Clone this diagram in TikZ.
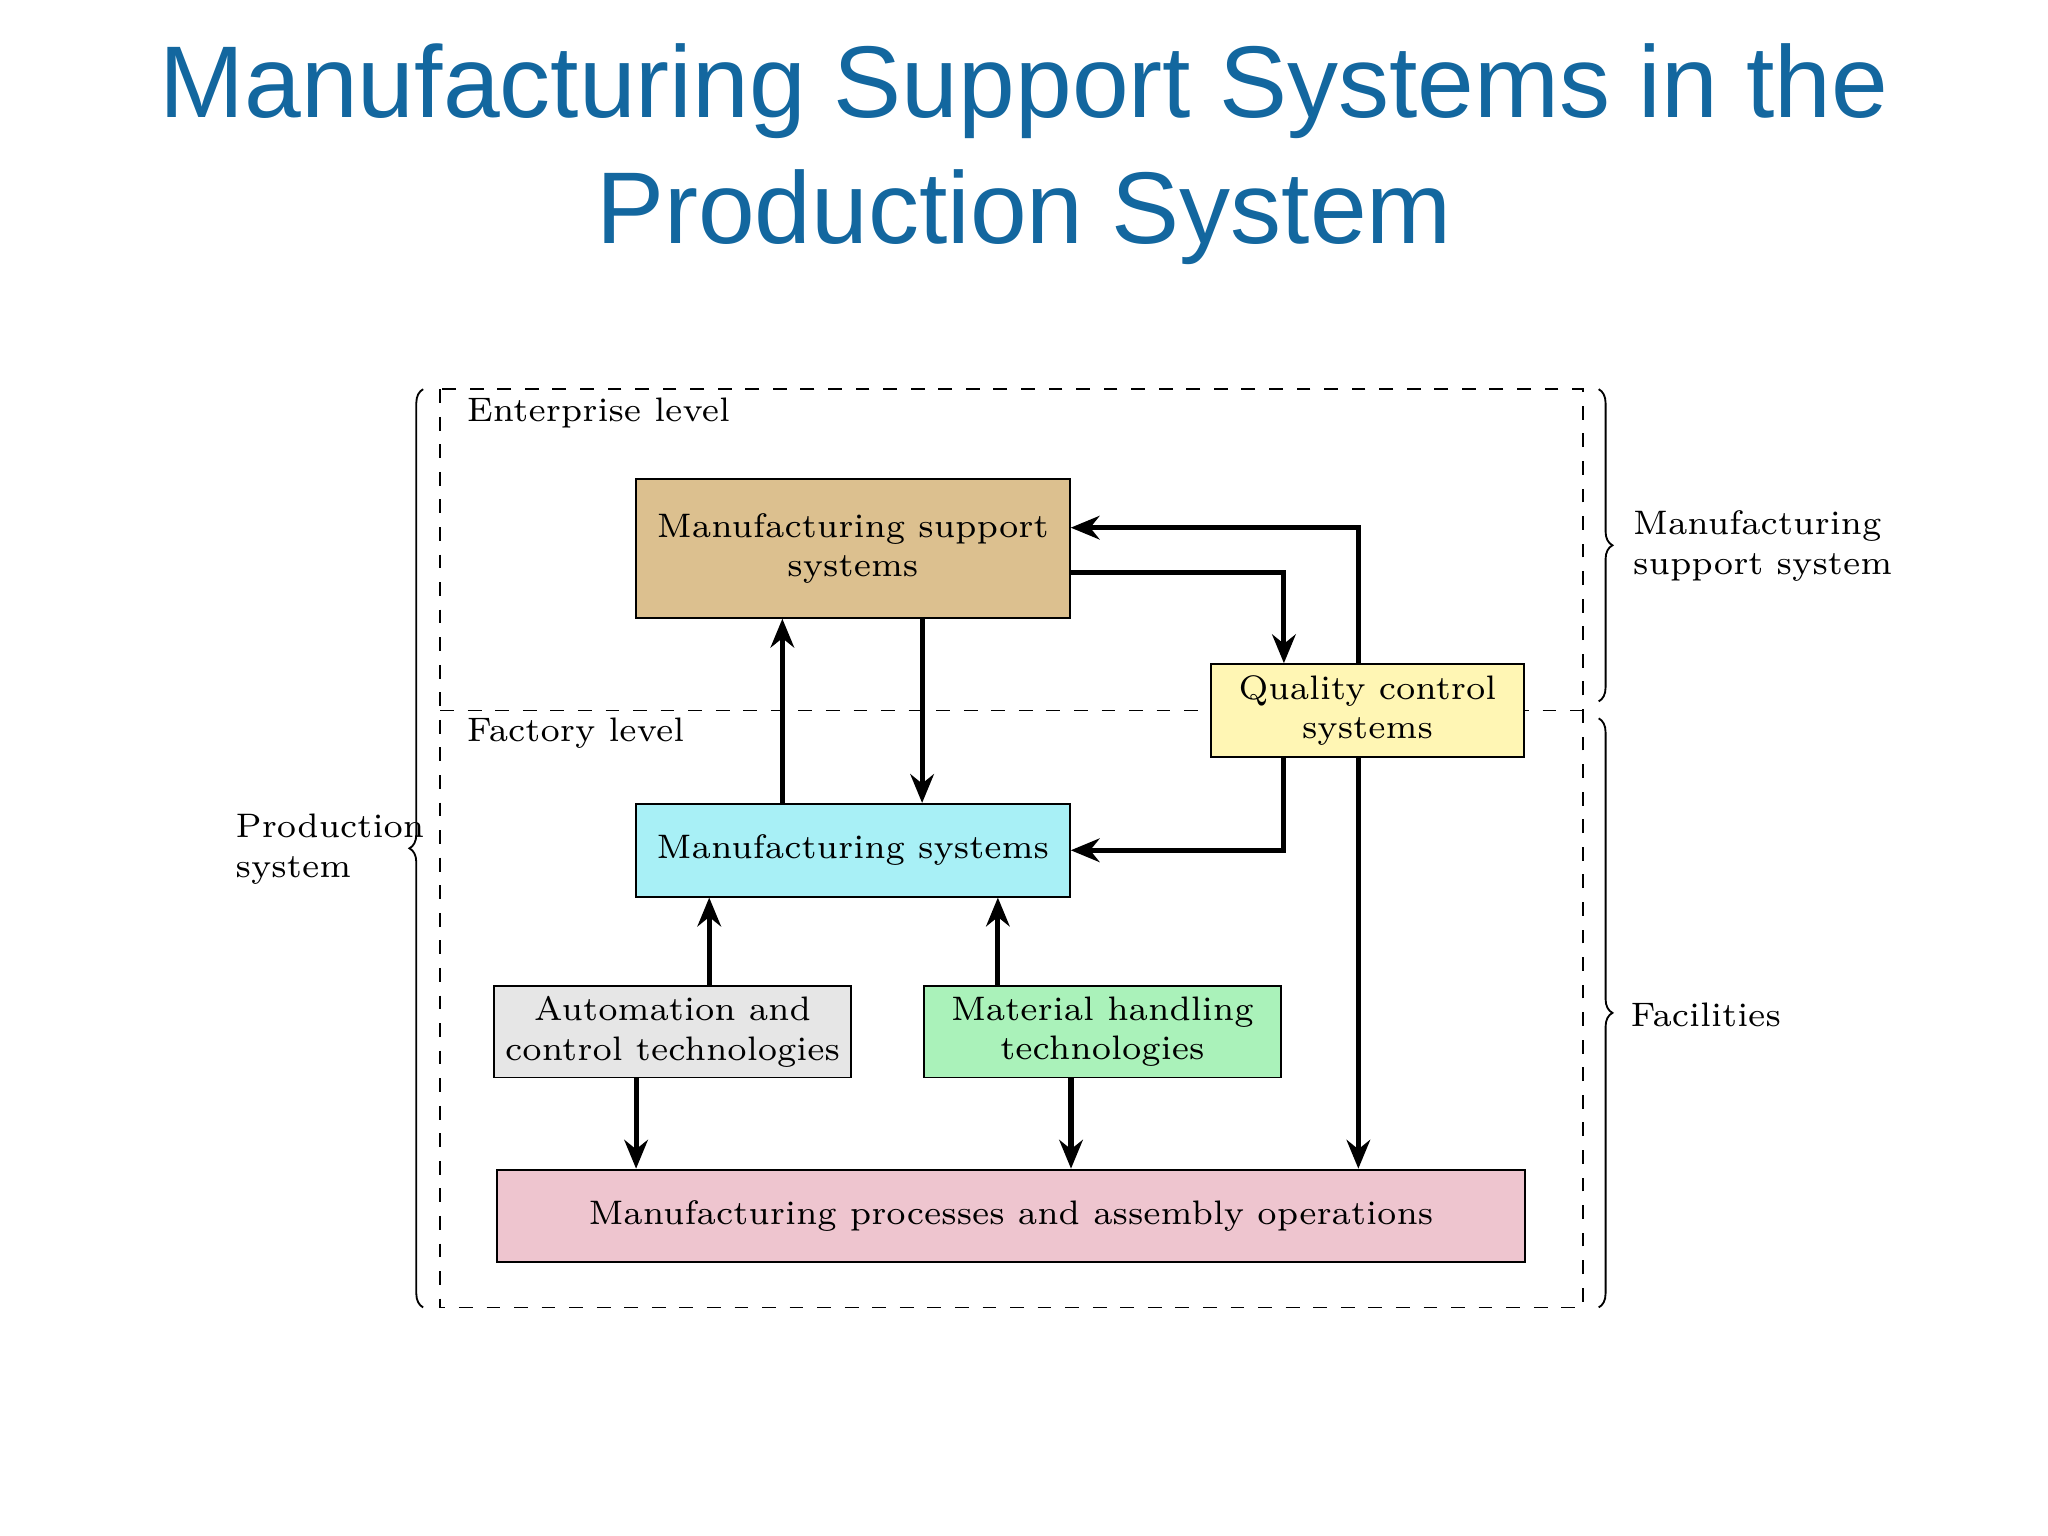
\documentclass[tikz,border=0pt]{standalone}
\usepackage{fontspec}
\newfontfamily\titlefont{Liberation Sans}
\usetikzlibrary{arrows.meta,decorations.pathreplacing}
\definecolor{titleblue}{HTML}{13679F}
\definecolor{mssfill}{HTML}{DCC08F}
\definecolor{qcfill}{HTML}{FFF6B4}
\definecolor{msfill}{HTML}{A8F0F6}
\definecolor{autofill}{HTML}{E6E6E6}
\definecolor{mhfill}{HTML}{AAF2BA}
\definecolor{mpfill}{HTML}{EEC5CF}
\begin{document}
\begin{tikzpicture}[x=0.01cm,y=-0.01cm,
                    box/.style={draw,thin,align=center,inner sep=0pt,
                            font=\fontsize{7.4}{8.6}\selectfont},
                    flow/.style={line width=1.1pt,-{Stealth[length=2.2mm,width=1.8mm]}},
                    lbl/.style={font=\fontsize{7.4}{8.6}\selectfont,align=left},
                    brc/.style={decorate,decoration={brace,amplitude=3pt},thin}]
    \useasboundingbox (0,0) rectangle (1568,1176);
    \node [font=\titlefont\fontsize{22.2}{27.5}\selectfont,text=titleblue,align=center]
        (title) at (784,118) {Manufacturing Support Systems in the\\Production System};

    % levels
    \draw [dashed,thin] (337,298) rectangle (1212,1001);
    \draw [dashed,thin] (337,544) -- (1212,544);
    \node [lbl,anchor=west] (ent) at (345,316) {Enterprise level};
    \node [lbl,anchor=west] (fac) at (345,561) {Factory level};

    % boxes
    \node [box,fill=mssfill,minimum width=3.32cm,minimum height=1.06cm] (mss) at (653,420)
        {Manufacturing support\\systems};
    \node [box,fill=qcfill,minimum width=2.4cm,minimum height=0.71cm] (qc) at (1047,544)
        {Quality control\\systems};
    \node [box,fill=msfill,minimum width=3.32cm,minimum height=0.71cm] (ms) at (653,651)
        {Manufacturing systems};
    \node [box,fill=autofill,minimum width=2.73cm,minimum height=0.7cm] (auto) at (515,790)
        {Automation and\\control technologies};
    \node [box,fill=mhfill,minimum width=2.73cm,minimum height=0.7cm] (mh) at (844,790)
        {Material handling\\technologies};
    \node [box,fill=mpfill,minimum width=7.87cm,minimum height=0.71cm] (mp) at (774,931)
        {Manufacturing processes and assembly operations};

    % connectors
    \draw [flow] (qc.north -| 1040,0) |- (mss.east |- 0,404);
    \draw [flow] (mss.east |- 0,438) -| (qc.north -| 983,0);
    \draw [flow] (ms.north -| 599,0) -- (mss.south -| 599,0);
    \draw [flow] (mss.south -| 706,0) -- (ms.north -| 706,0);
    \draw [flow] (qc.south -| 983,0) |- (ms.east);
    \draw [flow] (qc.south -| 1040,0) -- (mp.north -| 1040,0);
    \draw [flow] (auto.north -| 543,0) -- (ms.south -| 543,0);
    \draw [flow] (mh.north -| 764,0) -- (ms.south -| 764,0);
    \draw [flow] (auto.south -| 487,0) -- (mp.north -| 487,0);
    \draw [flow] (mh.south -| 820,0) -- (mp.north -| 820,0);

    % braces
    \draw [brc] (324,1001) -- (324,298);
    \draw [brc] (1224,298) -- (1224,537);
    \draw [brc] (1224,550) -- (1224,1001);
    \node [lbl,anchor=west] (prod) at (168,650) {Production\\system};
    \node [lbl,anchor=west] (msup) at (1238,418) {Manufacturing\\support system};
    \node [lbl,anchor=west] (facil) at (1236,777) {Facilities};
\end{tikzpicture}
\end{document}
